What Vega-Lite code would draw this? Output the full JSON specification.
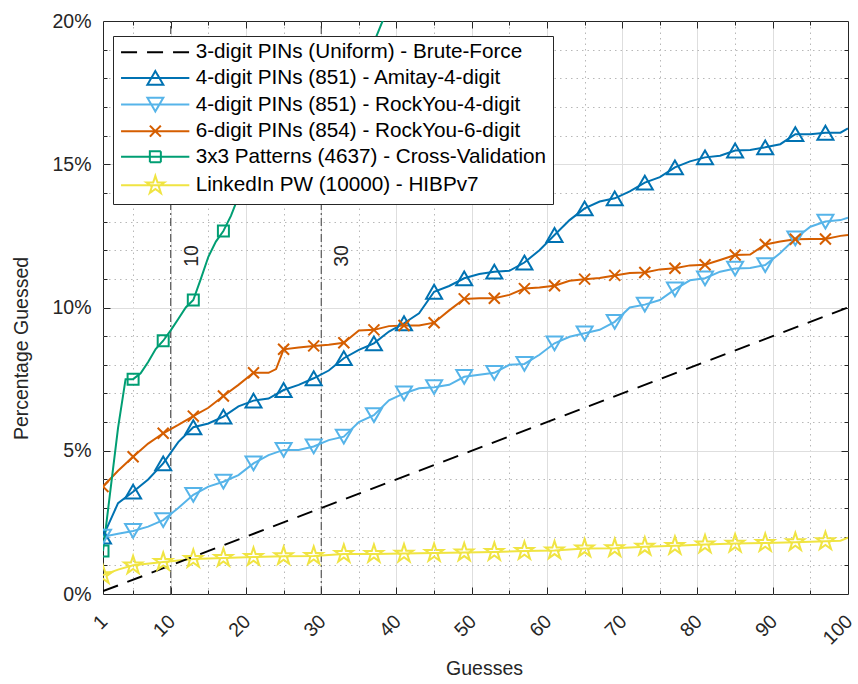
{
  "$schema": "https://vega.github.io/schema/vega-lite/v6.json",
  "width": 745,
  "height": 573,
  "autosize": {"type": "none"},
  "padding": {"left": 103, "top": 21, "right": 10, "bottom": 90},
  "background": "white",
  "config": {
    "view": {"stroke": "#262626", "strokeWidth": 1},
    "font": "Liberation Sans",
    "axis": {
      "domain": false,
      "labelFont": "Liberation Sans",
      "labelFontSize": 19.5,
      "labelColor": "#262626",
      "titleFont": "Liberation Sans",
      "titleFontSize": 19.5,
      "titleColor": "#262626",
      "titleFontWeight": "normal",
      "tickColor": "#262626",
      "tickWidth": 1,
      "labelFlush": false,
      "labelOverlap": false
    }
  },
  "datasets": {
    "series": [
      {"k": "U", "name": "3-digit PINs (Uniform) - Brute-Force"},
      {"k": "A", "name": "4-digit PINs (851) - Amitay-4-digit"},
      {"k": "R4", "name": "4-digit PINs (851) - RockYou-4-digit"},
      {"k": "R6", "name": "6-digit PINs (854) - RockYou-6-digit"},
      {"k": "G", "name": "3x3 Patterns (4637) - Cross-Validation"},
      {"k": "L", "name": "LinkedIn PW (10000) - HIBPv7"}
    ],
    "cutoffs": [
      {"g": 10, "label": "10"},
      {"g": 30, "label": "30"}
    ],
    "curves": [
      {"k": "U", "g": 1, "p": 0.1}, {"k": "U", "g": 100, "p": 10},

      {"k": "A", "g": 1, "p": 2.0}, {"k": "A", "g": 3, "p": 3.17}, {"k": "A", "g": 5, "p": 3.57}, {"k": "A", "g": 7, "p": 4.0},
      {"k": "A", "g": 9, "p": 4.56}, {"k": "A", "g": 11, "p": 5.3}, {"k": "A", "g": 13, "p": 5.82}, {"k": "A", "g": 15, "p": 5.95},
      {"k": "A", "g": 17, "p": 6.19}, {"k": "A", "g": 19, "p": 6.55}, {"k": "A", "g": 21, "p": 6.75}, {"k": "A", "g": 23, "p": 6.82},
      {"k": "A", "g": 25, "p": 7.12}, {"k": "A", "g": 27, "p": 7.3}, {"k": "A", "g": 29, "p": 7.53}, {"k": "A", "g": 31, "p": 7.8},
      {"k": "A", "g": 33, "p": 8.23}, {"k": "A", "g": 35, "p": 8.52}, {"k": "A", "g": 37, "p": 8.75}, {"k": "A", "g": 39, "p": 9.16},
      {"k": "A", "g": 41, "p": 9.45}, {"k": "A", "g": 43, "p": 9.8}, {"k": "A", "g": 45, "p": 10.55}, {"k": "A", "g": 47, "p": 10.75},
      {"k": "A", "g": 49, "p": 11.02}, {"k": "A", "g": 51, "p": 11.17}, {"k": "A", "g": 53, "p": 11.25}, {"k": "A", "g": 55, "p": 11.28},
      {"k": "A", "g": 57, "p": 11.57}, {"k": "A", "g": 59, "p": 12.0}, {"k": "A", "g": 61, "p": 12.53}, {"k": "A", "g": 63, "p": 13.05},
      {"k": "A", "g": 65, "p": 13.46}, {"k": "A", "g": 67, "p": 13.7}, {"k": "A", "g": 69, "p": 13.81}, {"k": "A", "g": 71, "p": 14.05},
      {"k": "A", "g": 73, "p": 14.36}, {"k": "A", "g": 75, "p": 14.55}, {"k": "A", "g": 77, "p": 14.89}, {"k": "A", "g": 79, "p": 15.1},
      {"k": "A", "g": 81, "p": 15.24}, {"k": "A", "g": 83, "p": 15.3}, {"k": "A", "g": 85, "p": 15.48}, {"k": "A", "g": 87, "p": 15.5},
      {"k": "A", "g": 89, "p": 15.59}, {"k": "A", "g": 91, "p": 15.7}, {"k": "A", "g": 93, "p": 16.05}, {"k": "A", "g": 95, "p": 16.05},
      {"k": "A", "g": 97, "p": 16.1}, {"k": "A", "g": 99, "p": 16.1}, {"k": "A", "g": 100, "p": 16.25},

      {"k": "R4", "g": 1, "p": 2.0}, {"k": "R4", "g": 3, "p": 2.1}, {"k": "R4", "g": 5, "p": 2.2}, {"k": "R4", "g": 7, "p": 2.35},
      {"k": "R4", "g": 9, "p": 2.58}, {"k": "R4", "g": 11, "p": 3.0}, {"k": "R4", "g": 13, "p": 3.46}, {"k": "R4", "g": 15, "p": 3.75},
      {"k": "R4", "g": 17, "p": 3.92}, {"k": "R4", "g": 19, "p": 4.15}, {"k": "R4", "g": 21, "p": 4.56}, {"k": "R4", "g": 23, "p": 4.85},
      {"k": "R4", "g": 25, "p": 5.03}, {"k": "R4", "g": 27, "p": 5.03}, {"k": "R4", "g": 29, "p": 5.15}, {"k": "R4", "g": 31, "p": 5.37},
      {"k": "R4", "g": 33, "p": 5.49}, {"k": "R4", "g": 35, "p": 6.0}, {"k": "R4", "g": 37, "p": 6.24}, {"k": "R4", "g": 39, "p": 6.76},
      {"k": "R4", "g": 41, "p": 7.0}, {"k": "R4", "g": 43, "p": 7.18}, {"k": "R4", "g": 45, "p": 7.22}, {"k": "R4", "g": 47, "p": 7.3},
      {"k": "R4", "g": 49, "p": 7.58}, {"k": "R4", "g": 51, "p": 7.65}, {"k": "R4", "g": 53, "p": 7.72}, {"k": "R4", "g": 55, "p": 8.0},
      {"k": "R4", "g": 57, "p": 8.03}, {"k": "R4", "g": 59, "p": 8.35}, {"k": "R4", "g": 61, "p": 8.75}, {"k": "R4", "g": 63, "p": 8.98},
      {"k": "R4", "g": 65, "p": 9.1}, {"k": "R4", "g": 67, "p": 9.22}, {"k": "R4", "g": 69, "p": 9.5}, {"k": "R4", "g": 71, "p": 10.0},
      {"k": "R4", "g": 73, "p": 10.1}, {"k": "R4", "g": 75, "p": 10.26}, {"k": "R4", "g": 77, "p": 10.63}, {"k": "R4", "g": 79, "p": 10.95},
      {"k": "R4", "g": 81, "p": 11.02}, {"k": "R4", "g": 83, "p": 11.25}, {"k": "R4", "g": 85, "p": 11.36}, {"k": "R4", "g": 87, "p": 11.38},
      {"k": "R4", "g": 89, "p": 11.48}, {"k": "R4", "g": 91, "p": 11.9}, {"k": "R4", "g": 93, "p": 12.41}, {"k": "R4", "g": 95, "p": 12.82},
      {"k": "R4", "g": 97, "p": 13.0}, {"k": "R4", "g": 99, "p": 13.05}, {"k": "R4", "g": 100, "p": 13.13},

      {"k": "R6", "g": 1, "p": 3.75}, {"k": "R6", "g": 3, "p": 4.3}, {"k": "R6", "g": 5, "p": 4.79}, {"k": "R6", "g": 7, "p": 5.25},
      {"k": "R6", "g": 9, "p": 5.61}, {"k": "R6", "g": 11, "p": 5.9}, {"k": "R6", "g": 13, "p": 6.21}, {"k": "R6", "g": 15, "p": 6.5},
      {"k": "R6", "g": 17, "p": 6.91}, {"k": "R6", "g": 19, "p": 7.3}, {"k": "R6", "g": 21, "p": 7.72}, {"k": "R6", "g": 23, "p": 7.72},
      {"k": "R6", "g": 24, "p": 7.85}, {"k": "R6", "g": 25, "p": 8.54}, {"k": "R6", "g": 27, "p": 8.6}, {"k": "R6", "g": 29, "p": 8.66},
      {"k": "R6", "g": 31, "p": 8.7}, {"k": "R6", "g": 33, "p": 8.77}, {"k": "R6", "g": 35, "p": 9.2}, {"k": "R6", "g": 37, "p": 9.22},
      {"k": "R6", "g": 39, "p": 9.35}, {"k": "R6", "g": 41, "p": 9.37}, {"k": "R6", "g": 43, "p": 9.37}, {"k": "R6", "g": 45, "p": 9.47},
      {"k": "R6", "g": 47, "p": 9.9}, {"k": "R6", "g": 49, "p": 10.3}, {"k": "R6", "g": 51, "p": 10.32}, {"k": "R6", "g": 53, "p": 10.32},
      {"k": "R6", "g": 55, "p": 10.44}, {"k": "R6", "g": 57, "p": 10.66}, {"k": "R6", "g": 59, "p": 10.7}, {"k": "R6", "g": 61, "p": 10.76},
      {"k": "R6", "g": 63, "p": 10.93}, {"k": "R6", "g": 65, "p": 10.99}, {"k": "R6", "g": 67, "p": 11.03}, {"k": "R6", "g": 69, "p": 11.12},
      {"k": "R6", "g": 71, "p": 11.2}, {"k": "R6", "g": 73, "p": 11.22}, {"k": "R6", "g": 75, "p": 11.33}, {"k": "R6", "g": 77, "p": 11.37},
      {"k": "R6", "g": 79, "p": 11.47}, {"k": "R6", "g": 81, "p": 11.49}, {"k": "R6", "g": 83, "p": 11.66}, {"k": "R6", "g": 85, "p": 11.83},
      {"k": "R6", "g": 87, "p": 11.85}, {"k": "R6", "g": 89, "p": 12.2}, {"k": "R6", "g": 91, "p": 12.3}, {"k": "R6", "g": 93, "p": 12.38},
      {"k": "R6", "g": 95, "p": 12.39}, {"k": "R6", "g": 97, "p": 12.39}, {"k": "R6", "g": 99, "p": 12.5}, {"k": "R6", "g": 100, "p": 12.53},

      {"k": "G", "g": 1, "p": 1.5}, {"k": "G", "g": 2, "p": 3.65}, {"k": "G", "g": 3, "p": 5.8}, {"k": "G", "g": 4, "p": 7.5},
      {"k": "G", "g": 5, "p": 7.5}, {"k": "G", "g": 6, "p": 7.7}, {"k": "G", "g": 7, "p": 8.1}, {"k": "G", "g": 8, "p": 8.55},
      {"k": "G", "g": 9, "p": 8.84}, {"k": "G", "g": 10, "p": 9.2}, {"k": "G", "g": 11, "p": 9.6}, {"k": "G", "g": 12, "p": 10.0},
      {"k": "G", "g": 13, "p": 10.26}, {"k": "G", "g": 14, "p": 11.0}, {"k": "G", "g": 15, "p": 11.77}, {"k": "G", "g": 16, "p": 12.3},
      {"k": "G", "g": 17, "p": 12.67}, {"k": "G", "g": 18, "p": 13.2}, {"k": "G", "g": 19, "p": 13.87}, {"k": "G", "g": 21, "p": 14.6},
      {"k": "G", "g": 23, "p": 15.3}, {"k": "G", "g": 25, "p": 16.0}, {"k": "G", "g": 27, "p": 16.6}, {"k": "G", "g": 29, "p": 17.2},
      {"k": "G", "g": 31, "p": 17.7}, {"k": "G", "g": 33, "p": 18.2}, {"k": "G", "g": 35, "p": 18.7}, {"k": "G", "g": 37, "p": 19.25},
      {"k": "G", "g": 38, "p": 19.9}, {"k": "G", "g": 39, "p": 20.5}, {"k": "G", "g": 40, "p": 21.0},

      {"k": "L", "g": 1, "p": 0.66}, {"k": "L", "g": 3, "p": 0.85}, {"k": "L", "g": 5, "p": 1.0}, {"k": "L", "g": 9, "p": 1.12},
      {"k": "L", "g": 13, "p": 1.22}, {"k": "L", "g": 17, "p": 1.26}, {"k": "L", "g": 21, "p": 1.29}, {"k": "L", "g": 25, "p": 1.32},
      {"k": "L", "g": 29, "p": 1.33}, {"k": "L", "g": 33, "p": 1.4}, {"k": "L", "g": 37, "p": 1.4}, {"k": "L", "g": 41, "p": 1.41},
      {"k": "L", "g": 45, "p": 1.43}, {"k": "L", "g": 49, "p": 1.45}, {"k": "L", "g": 53, "p": 1.47}, {"k": "L", "g": 57, "p": 1.5},
      {"k": "L", "g": 61, "p": 1.52}, {"k": "L", "g": 65, "p": 1.59}, {"k": "L", "g": 69, "p": 1.6}, {"k": "L", "g": 73, "p": 1.65},
      {"k": "L", "g": 77, "p": 1.68}, {"k": "L", "g": 81, "p": 1.73}, {"k": "L", "g": 85, "p": 1.76}, {"k": "L", "g": 89, "p": 1.78},
      {"k": "L", "g": 93, "p": 1.81}, {"k": "L", "g": 97, "p": 1.84}, {"k": "L", "g": 99, "p": 1.86}, {"k": "L", "g": 100, "p": 1.97}
    ]
  },
  "layer": [
    {
      "data": {"name": "cutoffs"},
      "mark": {"type": "rule", "color": "#3c3c3c", "strokeWidth": 1, "strokeDash": [8, 3, 2, 3]},
      "encoding": {
        "x": {
          "field": "g", "type": "quantitative",
          "scale": {"domain": [1, 100], "nice": false, "zero": false},
          "axis": {
            "orient": "bottom", "values": [1, 10, 20, 30, 40, 50, 60, 70, 80, 90, 100],
            "grid": false, "ticks": false, "labelAngle": -45, "labelAlign": "right",
            "labelBaseline": "middle", "labelPadding": 24, "labelOffset": 1,
            "title": "Guesses", "titlePadding": 12, "titleX": 381
          }
        },
        "y": {
          "datum": 0, "type": "quantitative",
          "scale": {"domain": [0, 20], "nice": false, "zero": true},
          "axis": {
            "orient": "left", "values": [0, 5, 10, 15, 20], "grid": false, "ticks": false,
            "labelExpr": "datum.value + '%'", "labelPadding": 12,
            "title": "Percentage Guessed", "titlePadding": 20, "titleY": 327
          }
        },
        "y2": {"datum": 20}
      }
    },
    {
      "data": {"name": "cutoffs"},
      "mark": {"type": "text", "angle": 270, "align": "center", "baseline": "alphabetic", "dy": 27, "fontSize": 19.5, "font": "Liberation Sans", "color": "#262626"},
      "encoding": {
        "x": {
          "field": "g", "type": "quantitative",
          "axis": {
            "orient": "bottom", "values": [10, 20, 30, 40, 50, 60, 70, 80, 90],
            "grid": true, "gridColor": "#dedede", "gridWidth": 1,
            "ticks": true, "tickSize": -7, "labels": false, "title": null
          }
        },
        "y": {
          "datum": 11.8, "type": "quantitative",
          "axis": {
            "orient": "left", "values": [5, 10, 15],
            "grid": true, "gridColor": "#dedede", "gridWidth": 1,
            "ticks": true, "tickSize": -7, "labels": false, "title": null
          }
        },
        "text": {"field": "label"}
      }
    },
    {
      "data": {"name": "curves"},
      "transform": [
        {"filter": "datum.k !== 'U'"},
        {"lookup": "k", "from": {"data": {"name": "series"}, "key": "k", "fields": ["name"]}}
      ],
      "mark": {"type": "line", "strokeWidth": 2, "clip": true},
      "encoding": {
        "x": {
          "field": "g", "type": "quantitative",
          "axis": {
            "orient": "bottom", "values": [5, 15, 25, 35, 45, 55, 65, 75, 85, 95],
            "grid": true, "gridColor": "#b8b8b8", "gridDash": [1.5, 4], "gridWidth": 1,
            "ticks": true, "tickSize": -4, "labels": false, "title": null
          }
        },
        "y": {
          "field": "p", "type": "quantitative",
          "axis": {
            "orient": "left", "values": [1, 2, 3, 4, 6, 7, 8, 9, 11, 12, 13, 14, 16, 17, 18, 19],
            "grid": true, "gridColor": "#b8b8b8", "gridDash": [1.5, 4], "gridWidth": 1,
            "ticks": true, "tickSize": -4, "labels": false, "title": null
          }
        },
        "color": {
          "field": "name", "type": "nominal",
          "scale": {
            "domain": [
              "3-digit PINs (Uniform) - Brute-Force",
              "4-digit PINs (851) - Amitay-4-digit",
              "4-digit PINs (851) - RockYou-4-digit",
              "6-digit PINs (854) - RockYou-6-digit",
              "3x3 Patterns (4637) - Cross-Validation",
              "LinkedIn PW (10000) - HIBPv7"
            ],
            "range": ["#000000", "#0072B2", "#56B4E9", "#D55E00", "#009E73", "#F0E442"]
          },
          "legend": {
            "orient": "none", "legendX": 10, "legendY": 15, "title": null,
            "fillColor": "white", "strokeColor": "#262626", "padding": 6,
            "labelFont": "Liberation Sans", "labelFontSize": 20.7, "labelColor": "#000000", "labelLimit": 600,
            "symbolSize": 4, "symbolStrokeWidth": 2, "labelOffset": 56, "rowPadding": 3.6,
            "encode": {
              "symbols": {
                "update": {
                  "fill": {"value": "transparent"},
                  "shape": {"signal": "indexof(datum.value,'Uniform')>=0 ? 'M-8.3,0H60' : indexof(datum.value,'Amitay')>=0 ? 'M-8.3,0H60M26,-6.9L34,6.9L18,6.9Z' : indexof(datum.value,'RockYou-4')>=0 ? 'M-8.3,0H60M26,6.9L34,-6.9L18,-6.9Z' : indexof(datum.value,'RockYou-6')>=0 ? 'M-8.3,0H60M20.5,-5.5L31.5,5.5M20.5,5.5L31.5,-5.5' : indexof(datum.value,'Patterns')>=0 ? 'M-8.3,0H60M20.5,-5.5H31.5V5.5H20.5Z' : 'M-8.3,0H60M26,-9.5L28.13,-2.94L35.04,-2.94L29.45,1.12L31.58,7.69L26,3.63L20.42,7.69L22.55,1.12L16.96,-2.94L23.87,-2.94Z'"},
                  "strokeDash": {"signal": "indexof(datum.value,'Uniform')>=0 ? [16,10] : [1,0]"}
                }
              }
            }
          }
        }
      }
    },
    {
      "data": {"name": "curves"},
      "transform": [
        {"filter": "datum.k === 'U'"},
        {"lookup": "k", "from": {"data": {"name": "series"}, "key": "k", "fields": ["name"]}}
      ],
      "mark": {"type": "line", "strokeWidth": 2, "strokeDash": [16, 10], "clip": true},
      "encoding": {
        "x": {
          "field": "g", "type": "quantitative",
          "axis": {
            "orient": "top", "values": [10, 20, 30, 40, 50, 60, 70, 80, 90],
            "grid": false, "ticks": true, "tickSize": -7, "labels": false, "title": null
          }
        },
        "y": {
          "field": "p", "type": "quantitative",
          "axis": {
            "orient": "right", "values": [5, 10, 15],
            "grid": false, "ticks": true, "tickSize": -7, "labels": false, "title": null
          }
        },
        "color": {"field": "name", "type": "nominal"}
      }
    },
    {
      "data": {"name": "curves"},
      "transform": [
        {"filter": "datum.k !== 'U' && (datum.g - 1) % 4 === 0 && datum.g < 100"},
        {"lookup": "k", "from": {"data": {"name": "series"}, "key": "k", "fields": ["name"]}}
      ],
      "mark": {"type": "point", "filled": false, "strokeWidth": 2, "size": 4, "opacity": 1, "clip": true},
      "encoding": {
        "x": {
          "field": "g", "type": "quantitative",
          "axis": {
            "orient": "top", "values": [5, 15, 25, 35, 45, 55, 65, 75, 85, 95],
            "grid": false, "ticks": true, "tickSize": -4, "labels": false, "title": null
          }
        },
        "y": {
          "field": "p", "type": "quantitative",
          "axis": {
            "orient": "right", "values": [1, 2, 3, 4, 6, 7, 8, 9, 11, 12, 13, 14, 16, 17, 18, 19],
            "grid": false, "ticks": true, "tickSize": -4, "labels": false, "title": null
          }
        },
        "color": {"field": "name", "type": "nominal"},
        "shape": {
          "field": "name", "type": "nominal",
          "scale": {
            "domain": [
              "4-digit PINs (851) - Amitay-4-digit",
              "4-digit PINs (851) - RockYou-4-digit",
              "6-digit PINs (854) - RockYou-6-digit",
              "3x3 Patterns (4637) - Cross-Validation",
              "LinkedIn PW (10000) - HIBPv7"
            ],
            "range": [
              "M0,-6.9L8,6.9L-8,6.9Z",
              "M0,6.9L8,-6.9L-8,-6.9Z",
              "M-5.5,-5.5L5.5,5.5M-5.5,5.5L5.5,-5.5",
              "M-5.5,-5.5H5.5V5.5H-5.5Z",
              "M0,-9.5L2.13,-2.94L9.04,-2.94L3.45,1.12L5.58,7.69L0,3.63L-5.58,7.69L-3.45,1.12L-9.04,-2.94L-2.13,-2.94Z"
            ]
          },
          "legend": null
        }
      }
    }
  ],
  "resolve": {"axis": {"x": "independent", "y": "independent"}}
}
